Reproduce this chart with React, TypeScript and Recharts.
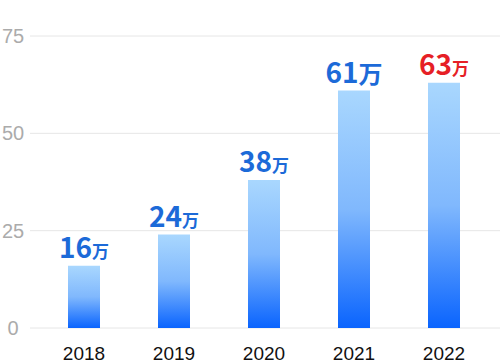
import { BarChart, Bar, XAxis, YAxis, CartesianGrid, LabelList } from 'recharts';

const years = ['2018', '2019', '2020', '2021', '2022'];
const users = [16, 24, 38, 61, 63];
const yTicks = [0, 25, 50, 75];
const unit = '万';

const data = years.map((year, i) => ({ year, users: users[i] }));

const BLUE = '#1c6ad8';
const RED = '#e61f26';

function YTick(props: any) {
  const { y, payload } = props;
  return (
    <text x={13} y={y} dy={7} textAnchor="middle" fill="#ababab" fontSize={20} fontFamily="'Liberation Sans', Arial, sans-serif">
      {payload.value}
    </text>
  );
}

function XTick(props: any) {
  const { x, y, payload } = props;
  return (
    <text x={x} y={y} dy={24} textAnchor="middle" fill="#111" fontSize={19} fontFamily="'Liberation Sans', Arial, sans-serif">
      {payload.value}
    </text>
  );
}

function ValueLabel(props: any) {
  const { x, y, width, value, index } = props;
  const last = index === years.length - 1;
  const bigUnit = index === 3;
  return (
    <text
      x={x + width / 2}
      y={y - 8}
      textAnchor="middle"
      fill={last ? RED : BLUE}
      fontFamily="'Noto Sans CJK SC', 'Noto Sans', sans-serif"
      fontWeight={700}
    >
      <tspan fontSize={28}>{value}</tspan>
      <tspan fontSize={bigUnit ? 24 : 17}>{unit}</tspan>
    </text>
  );
}

export default function App() {
  return (
    <div style={{ position: 'absolute', left: 0, top: 0, width: 500, height: 364, background: '#fff' }}>
      <BarChart width={500} height={364} data={data} margin={{ top: 36, right: 0, bottom: 0, left: 0 }}>
        <defs>
          <linearGradient id="barFill" x1="0" y1="0" x2="0" y2="1">
            <stop offset="0%" stopColor="#a9d7fe" />
            <stop offset="50%" stopColor="#80b8fd" />
            <stop offset="100%" stopColor="#0a64fe" />
          </linearGradient>
        </defs>
        <CartesianGrid vertical={false} stroke="#e6e6e6" />
        <XAxis
          dataKey="year"
          axisLine={false}
          tickLine={false}
          height={36}
          padding={{ left: 9, right: 11 }}
          tick={<XTick />}
          interval={0}
        />
        <YAxis
          domain={[0, 75]}
          ticks={yTicks}
          axisLine={false}
          tickLine={false}
          width={30}
          tick={<YTick />}
        />
        <Bar dataKey="users" fill="url(#barFill)" barSize={32} isAnimationActive={false}>
          <LabelList dataKey="users" content={<ValueLabel />} />
        </Bar>
      </BarChart>
    </div>
  );
}
